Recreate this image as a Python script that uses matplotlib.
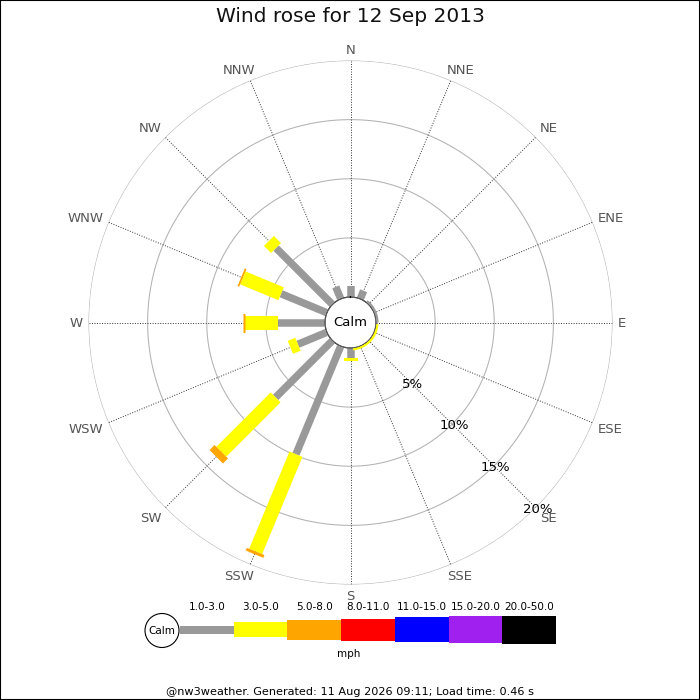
import numpy as np
import matplotlib
matplotlib.use('Agg')
import matplotlib.pyplot as plt
from matplotlib.patches import Rectangle, Circle

# ---------------- data ----------------
title = "Wind rose for 12 Sep 2013"
directions = ['N', 'NNE', 'NE', 'ENE', 'E', 'ESE', 'SE', 'SSE',
              'S', 'SSW', 'SW', 'WSW', 'W', 'WNW', 'NW', 'NNW']
band_1_3 = [0.95, 0.75, 0, 0, 0, 0, 0, 0, 0.85, 9.9, 6.8, 2.65, 3.95, 4.2, 6.75, 1.1]
band_3_5 = [0, 0, 0, 0, 0, 0, 0, 0, 0.25, 8.9, 6.5, 0.7, 2.8, 3.5, 0.85, 0]
band_5_8 = [0, 0, 0, 0, 0, 0, 0, 0, 0, 0.25, 0.6, 0, 0.2, 0.15, 0, 0]
ring_values = [5, 10, 15, 20]
ring_labels = ['5%', '10%', '15%', '20%']
legend_labels = ['1.0-3.0', '3.0-5.0', '5.0-8.0', '8.0-11.0',
                 '11.0-15.0', '15.0-20.0', '20.0-50.0']
legend_colors = ['#999999', '#ffff00', '#ffa500', '#ff0000',
                 '#0000ff', '#a020f0', '#000000']
calm_arcs = [(40, 88, '#999999'), (96, 172, '#ffff00')]
units = "mph"
footer = "@nw3weather. Generated: 11 Aug 2026 09:11; Load time: 0.46 s"

# ---------------- style ----------------
W = H = 700
cx, cy = 350.5, 322.5       # pixel centre (from top)
R_out = 262.0               # pixel radius of 20% ring
R_calm = 25.5               # pixel radius of calm circle
rmax = 20
scale = (R_out - R_calm) / rmax
r0_off = R_calm / scale
band_widths_px = [7.5, 14, 19]
legend_heights = [8, 15, 20, 22, 25, 27, 28]
px2pt = 72 / 100

fig = plt.figure(figsize=(7, 7), dpi=100)
fig.patch.set_facecolor('white')

# overlay axes in pixel coordinates (y downwards) for legend / texts
ov = fig.add_axes([0, 0, 1, 1])
ov.set_xlim(0, W)
ov.set_ylim(H, 0)
ov.axis('off')

# polar axes for the rose
ax = fig.add_axes([(cx - R_out) / W, (H - cy - R_out) / H, 2 * R_out / W, 2 * R_out / H],
                  projection='polar')
ax.set_theta_zero_location('N')
ax.set_theta_direction(-1)
ax.set_ylim(0, rmax)
ax.set_rorigin(-r0_off)
ax.set_xticks([])
ax.set_yticks([])
for s in ax.spines.values():
    s.set_visible(False)
ax.patch.set_visible(False)
ax.grid(False)

theta_full = np.linspace(0, 2 * np.pi, 400)
for rv in ring_values:
    ax.plot(theta_full, np.full_like(theta_full, rv), color='#b2b2b2', lw=0.75, zorder=1)

thetas = np.deg2rad(np.arange(len(directions)) * 22.5)
for th in thetas:
    ax.plot([th, th], [0, rmax], color='#333333', lw=0.7, ls=(0, (1, 1.6)), zorder=1)

# bars
bands = [band_1_3, band_3_5, band_5_8]
start = np.zeros(len(directions))
for b, vals in enumerate(bands):
    vals = np.asarray(vals, dtype=float)
    for i, th in enumerate(thetas):
        if vals[i] > 0:
            ax.plot([th, th], [start[i], start[i] + vals[i]], color=legend_colors[b],
                    lw=band_widths_px[b] * px2pt, solid_capstyle='butt', zorder=3 + b)
    start = start + vals

# calm circle
ax.fill(theta_full, np.zeros_like(theta_full), color='white', zorder=6)
ax.plot(theta_full, np.zeros_like(theta_full), color='black', lw=0.8, zorder=7)
for a0, a1, col in calm_arcs:
    ta = np.deg2rad(np.linspace(a0, a1, 60))
    ax.plot(ta, np.full_like(ta, 0.12), color=col, lw=1.6, zorder=8)
ax.text(0, -r0_off, 'Calm', ha='center', va='center', fontsize=9.5, zorder=9)

# compass labels: placed just beyond the end of each radial line,
# aligned away from the rose (JpGraph-like placement)
comp_texts = []
for name in directions:
    t = ov.text(0, 0, name, ha='center', va='baseline', fontsize=9.5,
                color='#555555', zorder=9)
    comp_texts.append(t)
fig.canvas.draw()
renderer = fig.canvas.get_renderer()
gap = 5.5
v_half = 5.7
cap_half = 4.8
for th, t in zip(thetas, comp_texts):
    bb = t.get_window_extent(renderer)
    sx, sy = np.sin(th), -np.cos(th)     # image coords (y down)
    px = cx + (R_out + gap) * sx
    py = cy + (R_out + gap) * sy
    px += np.clip(1.5 * sx, -1, 1) * bb.width / 2
    py += np.clip(1.5 * sy, -1, 1) * v_half
    t.set_position((px, py + cap_half))

# ring labels
for rv, lab in zip(ring_values, ring_labels):
    ax.text(np.deg2rad(135), rv + 0.2, lab, ha='center', va='center',
            fontsize=9.5, color='black', clip_on=False, zorder=9)

# title
ov.text(W / 2, 17, title, ha='center', va='center', fontsize=14.5, color='#111111')

# legend
lx0, seg_w, ly = 180.0, 53.7, 629.5
ov.add_patch(Circle((162, ly + 1), 17, fill=False, ec='black', lw=0.8))
ov.text(162, ly + 1, 'Calm', ha='center', va='center', fontsize=7.5)
for i, (lab, col, hgt) in enumerate(zip(legend_labels, legend_colors, legend_heights)):
    x = lx0 + i * seg_w
    ov.add_patch(Rectangle((x, ly - hgt / 2), seg_w, hgt, color=col, lw=0))
    ov.text(x + seg_w / 2, 607, lab, ha='center', va='center', fontsize=7.5)
ov.text(349, 654, units, ha='center', va='center', fontsize=7.5)

# footer
ov.text(W / 2, 692, footer, ha='center', va='center', fontsize=8.1)

# frame
fig.add_artist(Rectangle((0, 0), 1, 1, transform=fig.transFigure, fill=False,
                         ec='black', lw=1.5))

fig.savefig('out.png', dpi=100)
